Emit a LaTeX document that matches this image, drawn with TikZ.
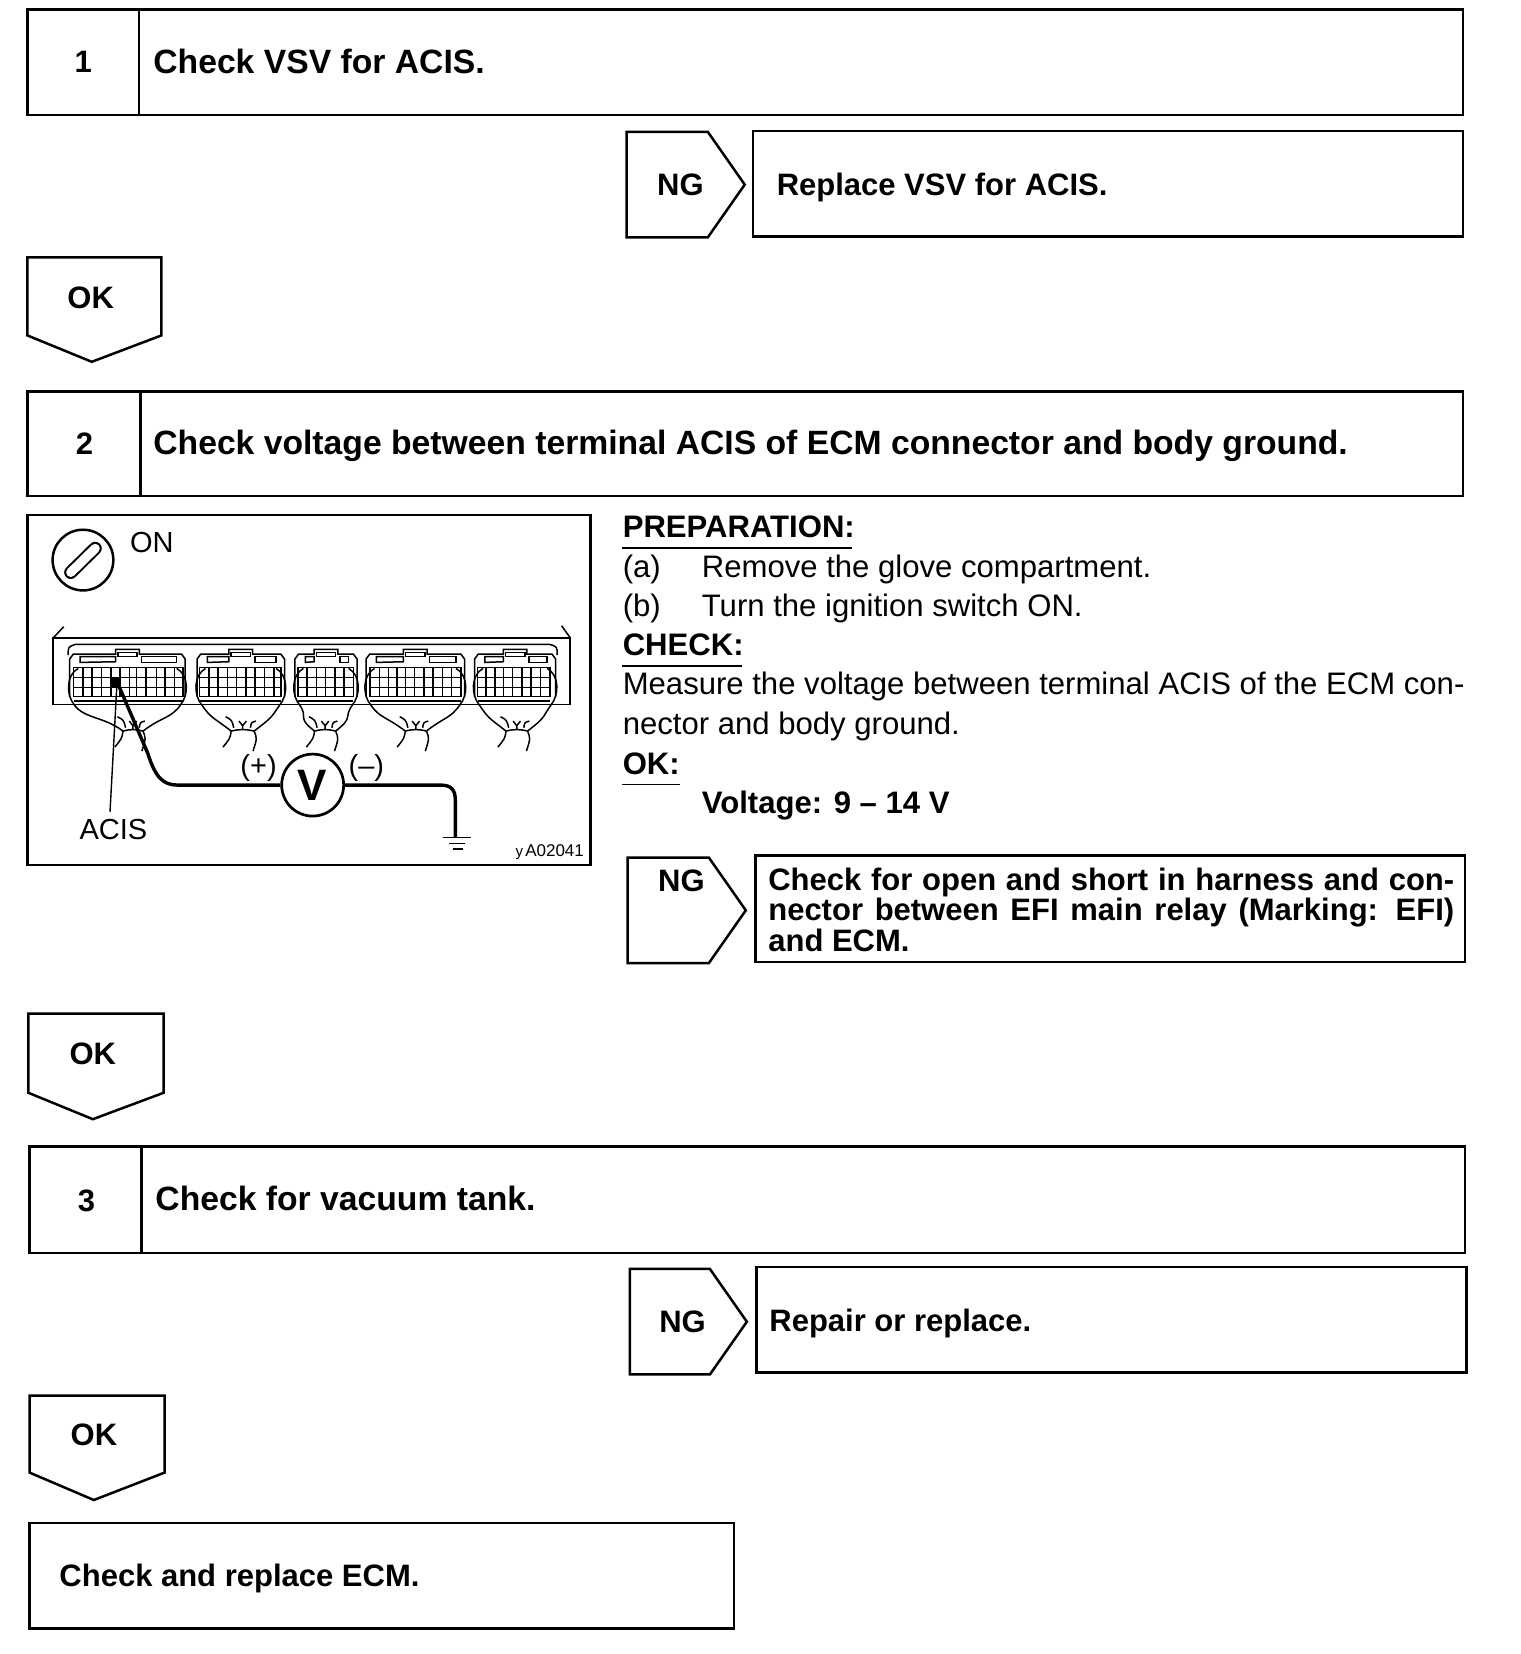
\documentclass[tikz,border=0pt]{standalone}
\usepackage{fontspec}
\setmainfont{Liberation Sans}
\newcommand\headf{\fontsize{16.85}{19}\selectfont\bfseries}
\newcommand\subf{\fontsize{15.5}{17}\selectfont\bfseries}
\newcommand\bodyf{\fontsize{15.55}{18}\selectfont}
\newcommand\ecmconn[6]{%
  \pgfmathsetmacro\ecmM{(#1+#2)/2}%
  \pgfmathsetmacro\ecmN{(#3+#4)/2}%
  \draw[fineline] (#1+2,575) -- (#1+2,462) -- (#1+12,447) -- (\ecmM-32,447) -- (\ecmM-32,433) -- (\ecmM+32,433) -- (\ecmM+32,447) -- (#2-12,447) -- (#2-2,462) -- (#2-2,575);
  \draw[fineline] (#1+30,472) -- (#1+30,455) -- (\ecmM-32,455) -- (\ecmM-32,470) -- cycle;
  \draw[fineline] (\ecmM+38,455) -- (#2-25,455) -- (#2-25,472) -- (\ecmM+38,472) -- cycle;
  \draw[fineline] (\ecmM-26,442) -- (\ecmM+26,442) -- (\ecmM+26,455) -- (\ecmM-26,455) -- cycle;
  \foreach \gy in {487,517,547,575} \draw[fineline] (#5,\gy) -- (#6,\gy);
  \foreach \gx in \ecmcols \draw[fineline] (\gx,487) -- (\gx,575);
  \draw[fineline,line width=1.1pt] (#5,587) -- (#6,587);
  \draw[fineline] (#1+25,490) .. controls (#1-8,510) and (#1-8,570) .. (#1+15,600) .. controls (#1+40,640) and (#3-50,635) .. (#3,678);
  \draw[fineline] (#2-25,490) .. controls (#2+8,510) and (#2+8,570) .. (#2-15,600) .. controls (#2-40,640) and (#4+50,635) .. (#4,678);
  \draw[fineline] (#3,678) .. controls (\ecmN-8,672) and (\ecmN+8,672) .. (#4,678);
  \draw[fineline] (#3,678) .. controls (#3-3,700) .. (#3-22,726);
  \draw[fineline] (#4,678) .. controls (#4+8,700) .. (#4-3,738);
  \draw[fineline] (#3-15,635) .. controls (#3+2,645) .. (#3+7,668);
  \draw[fineline] (#4+5,648) .. controls (#4-8,652) .. (#4-10,668);
  \draw[fineline] (\ecmN-10,648) -- (\ecmN,662) -- (\ecmN+10,648) (\ecmN,662) -- (\ecmN,672);
}
\tikzset{
  frame/.style={draw=black,line width=1.25pt,line join=miter},
  fineline/.style={draw=black,line width=.75pt},
  heavy/.style={draw=black,line width=1.7pt,line join=round},
  lab/.style={inner sep=0pt,anchor=base west,font=\headf},
  sublab/.style={inner sep=0pt,anchor=base west,font=\subf},
  num/.style={inner sep=0pt,font=\subf},
  body/.style={inner sep=0pt,anchor=base west,font=\bodyf},
  bbold/.style={inner sep=0pt,anchor=base west,font=\bodyf\bfseries},
  dlab/.style={inner sep=0pt,font=\fontsize{14.5}{17}\selectfont},
}
\begin{document}
\begin{tikzpicture}[x=0.5275pt,y=-0.5275pt]
\useasboundingbox (0,0) rectangle (1441,1568);
% Step 1
\draw[frame] (26,9) rectangle (1387,109);
\draw[frame] (132,9) -- (132,109);
\node[num] (n1) at (79,59) {1};
\node[lab] (t1) at (145,70) {Check VSV for ACIS.};
\draw[frame] (594,125) -- (671,125) -- (706,175) -- (671,225) -- (594,225) -- cycle;
\node[num] (ng1) at (645,175) {NG};
\draw[frame] (714,124) rectangle (1387,224);
\node[sublab] (r1) at (736,185) {Replace VSV for ACIS.};
\draw[frame] (26,244) -- (153,244) -- (153,318) -- (87,343) -- (26,318) -- cycle;
\node[num] (ok1) at (86,282) {OK};
% Step 2
\draw[frame] (26,371) rectangle (1387,470);
\draw[frame] (133,371) -- (133,470);
\node[num] (n2) at (80,421) {2};
\node[lab] (t2) at (145,431) {Check voltage between terminal ACIS of ECM connector and body ground.};
% Picture
\draw[frame] (26,488) rectangle (560,820);
\begin{scope}[shift={(18.96,478.8)},x=0.18525pt,y=-0.1667pt]
  \draw[frame] (170,165) ellipse (82 and 91);
  \draw[black,line width=6.6pt,line cap=round] (137,202) -- (203,130);
  \draw[white,line width=4.6pt,line cap=round] (137,202) -- (203,130);
  \node[dlab] (on) at (356,112) {ON};
  \draw[fineline,line width=.9pt] (90,598) -- (90,398) -- (1485,398) -- (1485,598) -- cycle;
  \draw[fineline] (90,398) -- (118,365) (1485,398) -- (1462,362);
  \draw[fineline] (130,450) .. controls (130,425) .. (150,418) -- (1430,418) .. controls (1450,425) .. (1450,450);
  \def\ecmcols{145,170,195,220,245,270,295,315,340,368,392,417,440}
  \ecmconn{132}{448}{278}{332}{145}{440}
  \def\ecmcols{485,510,535,560,585,610,635,660,685,705}
  \ecmconn{476}{716}{570}{632}{485}{705}
  \def\ecmcols{750,775,800,825,850,875,900}
  \ecmconn{740}{912}{795}{852}{750}{900}
  \def\ecmcols{945,970,995,1018,1040,1065,1090,1115,1140,1165,1190}
  \ecmconn{932}{1202}{1040}{1097}{945}{1190}
  \def\ecmcols{1235,1258,1282,1305,1330,1355,1380,1405,1430}
  \ecmconn{1225}{1448}{1312}{1370}{1235}{1430}
  \fill[black] (243,518) rectangle (268,545);
  \coordinate (acistip) at (262,530);
  \coordinate (acisend) at (243,920);
  \node[dlab] (acis) at (252,972) {ACIS};
  \draw[fineline,line width=.7pt] (acistip) -- (acisend);
  \node[draw=black,line width=1.35pt,circle,minimum size=31pt,inner sep=0pt,font=\fontsize{22}{24}\selectfont\bfseries] (v) at (790,840) {V};
  \draw[heavy] (acistip) -- (345,745) .. controls (365,815) and (385,840) .. (425,840) -- (v.west);
  \coordinate (gnd) at (1175,997);
  \draw[heavy] (v.east) -- (1135,840) .. controls (1165,840) and (1175,855) .. (1175,885) -- (gnd);
  \draw[fineline,line width=.9pt] (1143,997) -- (1217,997) (1158,1015) -- (1202,1015) (1168,1031) -- (1195,1031);
  \node[dlab] (plus) at (644,790) {(+)};
  \node[dlab] (minus) at (935,790) {(–)};
  \node[inner sep=0pt,font=\fontsize{8.5}{10}\selectfont] (code) at (1443,1038) {A02041};
  \node[inner sep=0pt,font=\fontsize{7.5}{9}\selectfont] (codey) at (1348,1048) {y};
\end{scope}
% Text column
\node[bbold] (prep) at (590,510) {PREPARATION:};
\draw[fineline,line width=.8pt] (590,519.5) -- (808,519.5);
\node[body] (a) at (590,547) {(a)};
\node[body] (at) at (665,547) {Remove the glove compartment.};
\node[body] (b) at (590,584) {(b)};
\node[body] (bt) at (665,584) {Turn the ignition switch ON.};
\node[bbold] (chk) at (590,621) {CHECK:};
\draw[fineline,line width=.8pt] (590,631.5) -- (703,631.5);
\node[body] (m1) at (590,658) {Measure the voltage between terminal ACIS of the ECM con-};
\node[body] (m2) at (590,696) {nector and body ground.};
\node[bbold] (okh) at (590,734) {OK:};
\draw[fineline,line width=.6pt] (590,744) -- (645,744);
\node[bbold] (volt) at (665,771) {Voltage: 9 -- 14 V};
% NG 2
\draw[frame] (595,813) -- (672,813) -- (707,863) -- (672,913) -- (595,913) -- cycle;
\node[num] (ng2) at (646,835) {NG};
\draw[frame] (716,811) rectangle (1389,912);
\node[sublab] (c1) at (728,844) {\hbox to 343pt{Check for open and short in harness and con-}};
\node[sublab] (c2) at (728,873) {\hbox to 343pt{nector between EFI main relay (Marking: EFI)}};
\node[sublab] (c3) at (728,902) {and ECM.};
\draw[frame] (27,961) -- (155,961) -- (155,1036) -- (88,1061) -- (27,1036) -- cycle;
\node[num] (ok2) at (88,999) {OK};
% Step 3
\draw[frame] (28,1087) rectangle (1389,1188);
\draw[frame] (134,1087) -- (134,1188);
\node[num] (n3) at (82,1138) {3};
\node[lab] (t3) at (147,1148) {Check for vacuum tank.};
\draw[frame] (597,1203) -- (673,1203) -- (708,1253) -- (673,1303) -- (597,1303) -- cycle;
\node[num] (ng3) at (647,1253) {NG};
\draw[frame] (717,1201) rectangle (1390,1301);
\node[sublab] (r3) at (729,1262) {Repair or replace.};
\draw[frame] (28,1323) -- (156,1323) -- (156,1396) -- (89,1422) -- (28,1396) -- cycle;
\node[num] (ok3) at (89,1360) {OK};
\draw[frame] (28,1444) rectangle (696,1544);
\node[sublab] (f) at (56,1504) {Check and replace ECM.};
\end{tikzpicture}
\end{document}
